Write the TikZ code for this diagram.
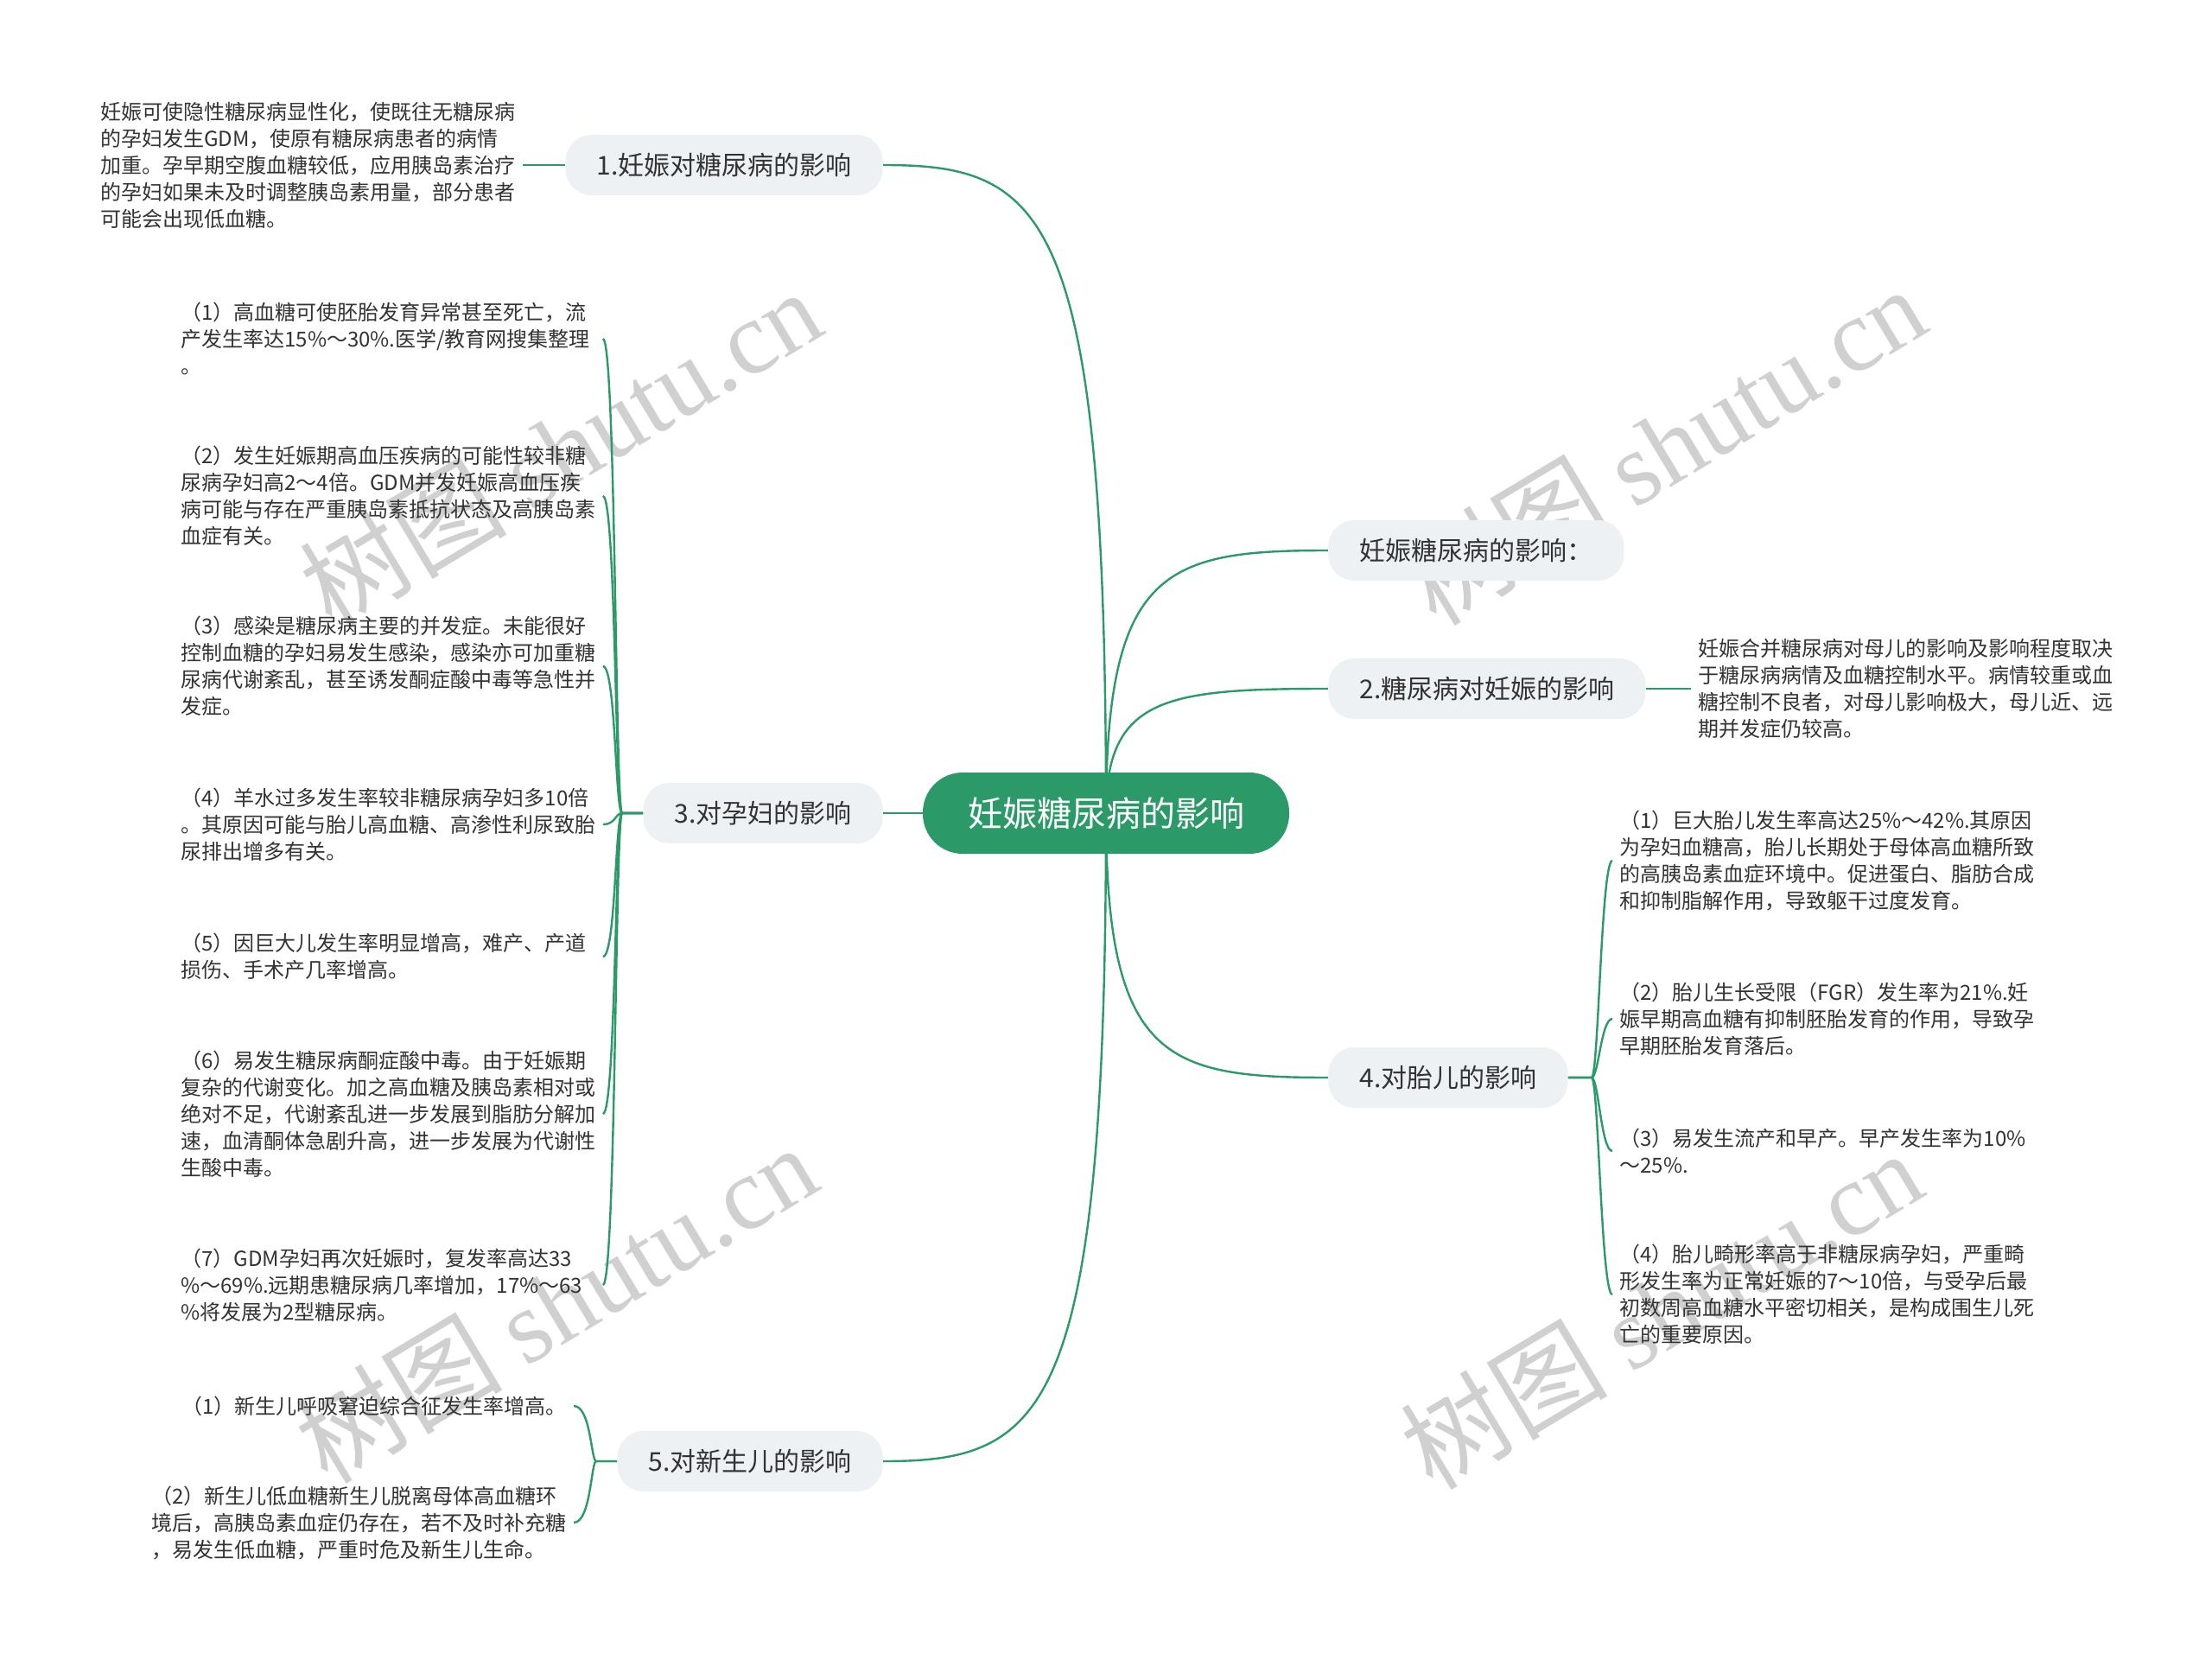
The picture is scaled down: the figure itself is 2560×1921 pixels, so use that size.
\documentclass[tikz,border=0pt]{standalone}
\usepackage{fontspec}
\setmainfont{Noto Sans CJK SC}
\newfontfamily\wmserif{Liberation Serif}
\usetikzlibrary{calc,backgrounds}
\definecolor{mgreen}{HTML}{2B9A68}
\definecolor{pillbg}{HTML}{EEF1F4}
\definecolor{txt}{HTML}{333333}
\definecolor{wm}{HTML}{D0D0D0}
\begin{document}
\begin{tikzpicture}[x=0.5pt,y=-0.5pt,
  rootbox/.style={fill=mgreen, text=white, rounded corners=23pt, minimum width=212pt, minimum height=47pt, font=\fontsize{20}{24}\selectfont, inner sep=0pt},
  pill/.style={fill=pillbg, text=txt, rounded corners=15pt, minimum height=35pt, inner xsep=18pt, inner ysep=0pt, font=\fontsize{15}{18}\selectfont},
  leaf/.style={text=txt, text width=240pt, align=left, inner xsep=4pt, inner ysep=0pt, font=\fontsize{12}{15.5}\selectfont},
  leafr/.style={leaf, align=right},
  link/.style={draw=mgreen, line width=1.2pt},
  wmark/.style={text=wm, rotate=31, font=\fontsize{60}{62}\selectfont, inner sep=0pt}
]
\useasboundingbox (0,0) rectangle (2560,1921);

% main nodes
\node[rootbox] (root) at (1280,941) {妊娠糖尿病的影响};
\node[pill, anchor=east] (p1) at (1022,191) {1.妊娠对糖尿病的影响};
\node[pill, anchor=west] (p0) at (1537,637) {妊娠糖尿病的影响：};
\node[pill, anchor=west] (p2) at (1537,797) {2.糖尿病对妊娠的影响};
\node[pill, anchor=east] (p3) at (1022,941) {3.对孕妇的影响};
\node[pill, anchor=west] (p4) at (1537,1247) {4.对胎儿的影响};
\node[pill, anchor=east] (p5) at (1022,1691) {5.对新生儿的影响};

% leaves
\node[leaf, anchor=west] (l1) at (108,191) {妊娠可使隐性糖尿病显性化，使既往无糖尿病\\的孕妇发生GDM，使原有糖尿病患者的病情\\加重。孕早期空腹血糖较低，应用胰岛素治疗\\的孕妇如果未及时调整胰岛素用量，部分患者\\可能会出现低血糖。};
\node[leaf, anchor=west] (l2) at (1957,797) {妊娠合并糖尿病对母儿的影响及影响程度取决\\于糖尿病病情及血糖控制水平。病情较重或血\\糖控制不良者，对母儿影响极大，母儿近、远\\期并发症仍较高。};

\node[leaf, anchor=west] (c31) at (201,392) {（1）高血糖可使胚胎发育异常甚至死亡，流\\产发生率达15\%～30\%.医学/教育网搜集整理\\。};
\node[leaf, anchor=west] (c32) at (201,574) {（2）发生妊娠期高血压疾病的可能性较非糖\\尿病孕妇高2～4倍。GDM并发妊娠高血压疾\\病可能与存在严重胰岛素抵抗状态及高胰岛素\\血症有关。};
\node[leaf, anchor=west] (c33) at (201,771) {（3）感染是糖尿病主要的并发症。未能很好\\控制血糖的孕妇易发生感染，感染亦可加重糖\\尿病代谢紊乱，甚至诱发酮症酸中毒等急性并\\发症。};
\node[leaf, anchor=west] (c34) at (201,954) {（4）羊水过多发生率较非糖尿病孕妇多10倍\\。其原因可能与胎儿高血糖、高渗性利尿致胎\\尿排出增多有关。};
\node[leaf, anchor=west] (c35) at (201,1107) {（5）因巨大儿发生率明显增高，难产、产道\\损伤、手术产几率增高。};
\node[leaf, anchor=west] (c36) at (201,1289) {（6）易发生糖尿病酮症酸中毒。由于妊娠期\\复杂的代谢变化。加之高血糖及胰岛素相对或\\绝对不足，代谢紊乱进一步发展到脂肪分解加\\速，血清酮体急剧升高，进一步发展为代谢性\\生酸中毒。};
\node[leaf, anchor=west] (c37) at (201,1487) {（7）GDM孕妇再次妊娠时，复发率高达33\\\%～69\%.远期患糖尿病几率增加，17\%～63\\\%将发展为2型糖尿病。};

\node[leaf, anchor=west] (c41) at (1866,996) {（1）巨大胎儿发生率高达25\%～42\%.其原因\\为孕妇血糖高，胎儿长期处于母体高血糖所致\\的高胰岛素血症环境中。促进蛋白、脂肪合成\\和抑制脂解作用，导致躯干过度发育。};
\node[leaf, anchor=west] (c42) at (1866,1179) {（2）胎儿生长受限（FGR）发生率为21\%.妊\\娠早期高血糖有抑制胚胎发育的作用，导致孕\\早期胚胎发育落后。};
\node[leaf, anchor=west] (c43) at (1866,1332) {（3）易发生流产和早产。早产发生率为10\%\\～25\%.};
\node[leaf, anchor=west] (c44) at (1866,1498) {（4）胎儿畸形率高于非糖尿病孕妇，严重畸\\形发生率为正常妊娠的7～10倍，与受孕后最\\初数周高血糖水平密切相关，是构成围生儿死\\亡的重要原因。};

\node[leafr, anchor=east] (c51) at (664,1627) {（1）新生儿呼吸窘迫综合征发生率增高。};
\node[leaf, anchor=east] (c52) at (664,1762) {（2）新生儿低血糖新生儿脱离母体高血糖环\\境后，高胰岛素血症仍存在，若不及时补充糖\\，易发生低血糖，严重时危及新生儿生命。};

\coordinate (j3) at (720,941);
\coordinate (j4) at (1842,1247);
\coordinate (j5) at (690,1691);

\begin{scope}[on background layer]
\fill[white] (0,0) rectangle (2560,1921);
\node[wmark] (wm1) at (648,518) {树图 {\wmserif shutu.cn}};
\node[wmark] (wm2) at (1926,515) {树图 {\wmserif shutu.cn}};
\node[wmark] (wm3) at (643,1508) {树图 {\wmserif shutu.cn}};
\node[wmark] (wm4) at (1922,1515) {树图 {\wmserif shutu.cn}};

% root connectors
\draw[link] (root.center) .. controls ($(root.center |- p1.east)+(0,52)$) and ($(p1.east)+(188,0)$) .. (p1.east);
\draw[link] (root.center) .. controls ($(root.center |- p0.west)+(0,21)$) and ($(p0.west)+(-188,0)$) .. (p0.west);
\draw[link] (root.center) .. controls ($(root.center |- p2.west)+(0,10)$) and ($(p2.west)+(-188,0)$) .. (p2.west);
\draw[link] (root.center) -- (p3.east);
\draw[link] (root.center) .. controls ($(root.center |- p4.west)+(0,-21)$) and ($(p4.west)+(-188,0)$) .. (p4.west);
\draw[link] (root.center) .. controls ($(root.center |- p5.east)+(0,-52)$) and ($(p5.east)+(188,0)$) .. (p5.east);

% leaf connectors
\draw[link] (p1.west) -- (l1.east);
\draw[link] (p2.east) -- (l2.west);
\foreach \c in {c31,c32,c33,c34,c35,c36,c37}{
  \draw[link] (p3.west) -- (j3) .. controls ($(j3)+(-8,0)$) and ($(\c.east)+(15,0)$) .. (\c.east);
}
\foreach \c in {c41,c42,c43,c44}{
  \draw[link] (p4.east) -- (j4) .. controls ($(j4)+(8,0)$) and ($(\c.west)+(-13,0)$) .. (\c.west);
}
\foreach \c in {c51,c52}{
  \draw[link] (p5.west) -- (j5) .. controls ($(j5)+(-6,0)$) and ($(\c.east)+(20,0)$) .. (\c.east);
}
\end{scope}
\end{tikzpicture}
\end{document}
